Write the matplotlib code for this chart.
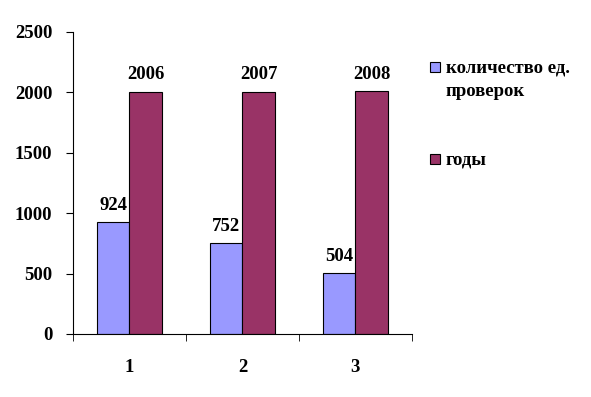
import numpy as np
import matplotlib
matplotlib.use("Agg")
import matplotlib.pyplot as plt
from matplotlib.patches import Rectangle

# data
categories = ["1", "2", "3"]
checks = [924, 752, 504]
years = [2006, 2007, 2008]
series_names = ["количество ед.", "проверок", "годы"]
colors = ["#9999FF", "#993366"]

plt.rcParams['font.family'] = ['Liberation Serif', 'DejaVu Serif']
plt.rcParams['font.weight'] = 'bold'
fs = 13.5
W, H = 591, 397

fig = plt.figure(figsize=(5.91, 3.97), dpi=100)
ax = fig.add_axes([0.1235, 0.1587, 0.5735, 0.7607])

x = np.arange(1, len(categories) + 1)
w = 0.29
b1 = ax.bar(x - w / 2, checks, w, color=colors[0], edgecolor="black", linewidth=0.8)
b2 = ax.bar(x + w / 2, years, w, color=colors[1], edgecolor="black", linewidth=0.8)

for rect, v in zip(b1, checks):
    ax.annotate(str(v), (rect.get_x() + rect.get_width() / 2, v), xytext=(0, 6),
                textcoords="offset points", ha="center", va="bottom", fontsize=fs, fontweight="bold")
for rect, v in zip(b2, years):
    ax.annotate(str(v), (rect.get_x() + rect.get_width() / 2, v), xytext=(0, 6),
                textcoords="offset points", ha="center", va="bottom", fontsize=fs, fontweight="bold")

ax.set_xlim(0.5, len(categories) + 0.5)
ax.set_ylim(0, 2500)
ax.set_yticks(range(0, 2501, 500))
ax.set_xticks(x)
ax.set_xticklabels(categories)
ax.set_xticks(np.arange(0.5, len(categories) + 1, 1), minor=True)
ax.tick_params(axis="x", which="major", length=0, pad=18, labelsize=fs)
ax.tick_params(axis="x", which="minor", length=5, direction="out")
ax.tick_params(axis="y", length=5, direction="out", labelsize=fs, pad=10)
for lab in ax.get_xticklabels() + ax.get_yticklabels():
    lab.set_fontweight("bold")

ax.spines["top"].set_visible(False)
ax.spines["right"].set_visible(False)

# legend drawn by hand so the marker sits on the first text line
for col, py in zip(colors, [62, 154]):
    fig.patches.append(Rectangle((430 / W, 1 - (py + 10) / H), 10 / W, 10 / H,
                                 transform=fig.transFigure, facecolor=col,
                                 edgecolor="black", linewidth=0.8))
for txt, py in zip(series_names, [68, 91, 160]):
    fig.text(446 / W, 1 - py / H, txt, ha="left", va="center", fontsize=fs, fontweight="bold")

fig.savefig("out.png", dpi=100)
